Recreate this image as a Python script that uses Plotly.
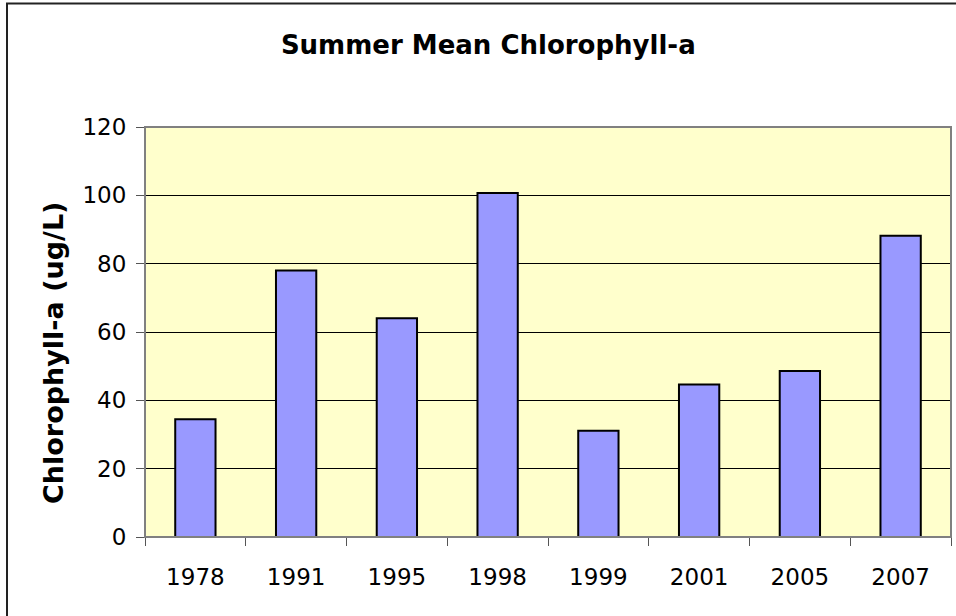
import plotly.graph_objects as go

years = ["1978", "1991", "1995", "1998", "1999", "2001", "2005", "2007"]
chl_values = [34.5, 78.0, 64.0, 100.7, 31.1, 44.6, 48.6, 88.2]
y_ticks = [0, 20, 40, 60, 80, 100, 120]

W, H = 956, 616
L, R, T, B = 145, 5, 127.3, 79.3
pw, ph = W - L - R, H - T - B

fig = go.Figure()
fig.add_trace(go.Bar(
    x=years, y=chl_values,
    marker=dict(color="#9999FF", line=dict(color="#000000", width=2)),
    width=0.4,
))

font_family = "DejaVu Sans, Liberation Sans, Arial, sans-serif"

fig.update_layout(
    width=W, height=H,
    margin=dict(l=L, r=R, t=T, b=B, autoexpand=False),
    paper_bgcolor="white",
    plot_bgcolor="#FFFFCC",
    showlegend=False,
    font=dict(family=font_family, color="black", size=23),
    title=dict(
        text="<b>Summer Mean Chlorophyll-a</b>",
        x=488.3 / W, xanchor="center",
        y=1 - 44.5 / H, yanchor="middle",
        font=dict(size=26, family=font_family, color="black"),
    ),
    xaxis=dict(
        type="category",
        tickson="boundaries",
        ticks="outside", ticklen=8, tickcolor="#555555", tickwidth=1,
        showline=True, linecolor="#555555", linewidth=1,
        showgrid=False, mirror=False,
        tickfont=dict(size=23),
        ticklabelstandoff=19,
        range=[-0.5, 7.5],
    ),
    yaxis=dict(
        range=[0, 120], tickvals=y_ticks,
        ticks="outside", ticklen=8, tickcolor="#555555", tickwidth=1,
        showline=True, linecolor="#555555", linewidth=1,
        showgrid=True, gridcolor="#000000", gridwidth=1,
        zeroline=False,
        tickfont=dict(size=23),
        ticklabelstandoff=5,
    ),
    shapes=[
        # plot area border
        dict(type="rect", xref="paper", yref="paper", x0=0, x1=1, y0=0, y1=1,
             line=dict(color="#808080", width=2), layer="above"),
        # outer chart border (left/top visible)
        dict(type="rect", xref="paper", yref="paper",
             x0=(7 - L) / pw, x1=(W + 20 - L) / pw,
             y0=-(B + 20) / ph, y1=(H - B - 4) / ph,
             line=dict(color="#222222", width=2), fillcolor="rgba(0,0,0,0)"),
    ],
    annotations=[
        dict(text="<b>Chlorophyll-a (ug/L)</b>", textangle=-90,
             xref="paper", yref="paper",
             x=(53 - L) / pw, y=(H - B - 353) / ph,
             xanchor="center", yanchor="middle", showarrow=False,
             font=dict(size=27, family=font_family, color="black")),
    ],
)

fig.write_html("out.html",
               config={"displayModeBar": False},
               post_script="document.body.style.margin='0';document.body.style.overflow='hidden';")
